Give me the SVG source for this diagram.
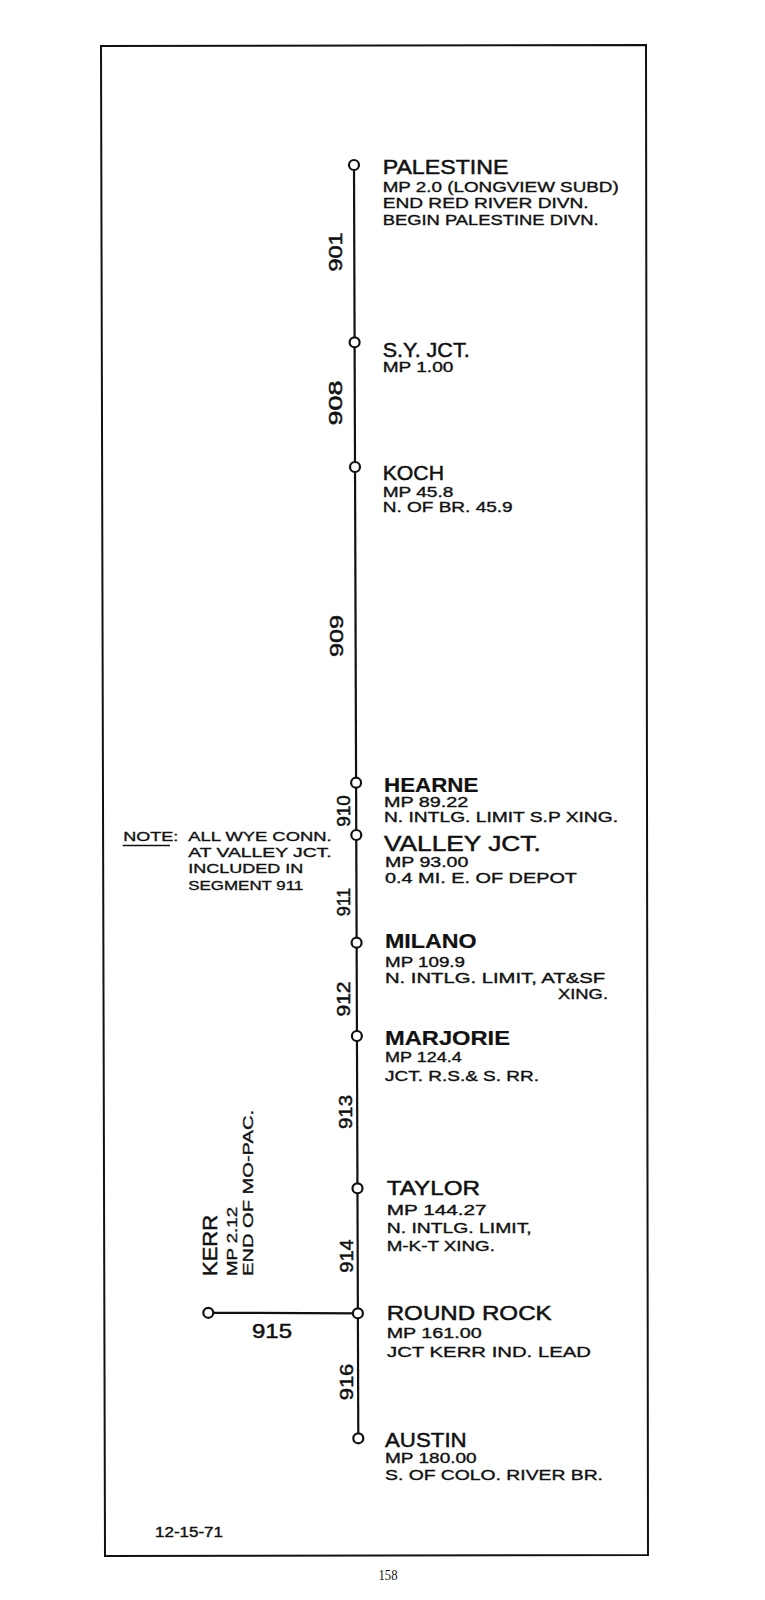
<svg xmlns="http://www.w3.org/2000/svg" width="765" height="1600" viewBox="0 0 765 1600">
<style>
text{font-family:"Liberation Sans",Arial,sans-serif;fill:#111;stroke:#111;stroke-width:0.35px;}
.nm{font-size:21px;stroke-width:0.5px;}
.nb{font-size:21px;font-weight:bold;stroke-width:0.2px;}
.sub{font-size:14px;}
.seg{font-size:19px;stroke-width:0.5px;}
.note{font-size:13.5px;}
.stn{fill:#fff;stroke:#111;stroke-width:2.2;}
.trk{stroke:#111;stroke-width:2.2;fill:none;}
</style>
<rect x="0" y="0" width="765" height="1600" fill="#fff"/>
<polygon id="frame" points="101,46 646,45 648,1555 105,1556" fill="none" stroke="#111" stroke-width="2"/>
<g id="connectors">
<line class="trk" x1="354" y1="165" x2="358.3" y2="1438.3"/>
<line class="trk" x1="208.3" y1="1312.8" x2="357.9" y2="1313.3"/>
</g>
<g id="segments">
<text class="seg" transform="translate(342,252) rotate(-90)" text-anchor="middle" textLength="39" lengthAdjust="spacingAndGlyphs">901</text>
<text class="seg" transform="translate(342,403) rotate(-90)" text-anchor="middle" textLength="45" lengthAdjust="spacingAndGlyphs">908</text>
<text class="seg" transform="translate(343,636) rotate(-90)" text-anchor="middle" textLength="42" lengthAdjust="spacingAndGlyphs">909</text>
<text class="seg" transform="translate(350,811) rotate(-90)" text-anchor="middle" textLength="31.7" lengthAdjust="spacingAndGlyphs">910</text>
<text class="seg" transform="translate(350,902) rotate(-90)" text-anchor="middle" textLength="28.7" lengthAdjust="spacingAndGlyphs">911</text>
<text class="seg" transform="translate(350,999) rotate(-90)" text-anchor="middle" textLength="35" lengthAdjust="spacingAndGlyphs">912</text>
<text class="seg" transform="translate(352,1112) rotate(-90)" text-anchor="middle" textLength="34" lengthAdjust="spacingAndGlyphs">913</text>
<text class="seg" transform="translate(353,1256) rotate(-90)" text-anchor="middle" textLength="33.3" lengthAdjust="spacingAndGlyphs">914</text>
<text class="seg" transform="translate(353,1382) rotate(-90)" text-anchor="middle" textLength="36.7" lengthAdjust="spacingAndGlyphs">916</text>
<text class="nm" x="252" y="1337.5" textLength="40" lengthAdjust="spacingAndGlyphs">915</text>
</g>
<g id="palestine">
<circle class="stn" cx="354" cy="165" r="5"/>
<text class="nm" x="382.7" y="174.3" textLength="125.7" lengthAdjust="spacingAndGlyphs">PALESTINE</text>
<text class="sub" x="382.7" y="191.7" textLength="236" lengthAdjust="spacingAndGlyphs">MP 2.0 (LONGVIEW SUBD)</text>
<text class="sub" x="382.7" y="208.3" textLength="206" lengthAdjust="spacingAndGlyphs">END RED RIVER DIVN.</text>
<text class="sub" x="382.7" y="225" textLength="216" lengthAdjust="spacingAndGlyphs">BEGIN PALESTINE DIVN.</text>
</g>
<g id="sy-jct">
<circle class="stn" cx="354.6" cy="342.3" r="5"/>
<text class="nm" x="382.7" y="356.7" textLength="87" lengthAdjust="spacingAndGlyphs">S.Y. JCT.</text>
<text class="sub" x="382.7" y="372.3" textLength="70.7" lengthAdjust="spacingAndGlyphs">MP 1.00</text>
</g>
<g id="koch">
<circle class="stn" cx="355" cy="467" r="5"/>
<text class="nm" x="382.7" y="480" textLength="61.3" lengthAdjust="spacingAndGlyphs">KOCH</text>
<text class="sub" x="382.7" y="496.5" textLength="70.7" lengthAdjust="spacingAndGlyphs">MP 45.8</text>
<text class="sub" x="382.7" y="512" textLength="130" lengthAdjust="spacingAndGlyphs">N. OF BR. 45.9</text>
</g>
<g id="hearne">
<circle class="stn" cx="356.1" cy="782.7" r="5"/>
<text class="nb" x="384" y="791.7" textLength="94.3" lengthAdjust="spacingAndGlyphs">HEARNE</text>
<text class="sub" x="384" y="806.7" textLength="84.3" lengthAdjust="spacingAndGlyphs">MP 89.22</text>
<text class="sub" x="384" y="821.7" textLength="234" lengthAdjust="spacingAndGlyphs">N. INTLG. LIMIT S.P XING.</text>
</g>
<g id="valley-jct">
<circle class="stn" cx="356.3" cy="835" r="5"/>
<text class="nm" x="384" y="850.7" textLength="156.7" lengthAdjust="spacingAndGlyphs" style="font-size:22px">VALLEY JCT.</text>
<text class="sub" x="385" y="867.3" textLength="83.3" lengthAdjust="spacingAndGlyphs">MP 93.00</text>
<text class="sub" x="385" y="883.3" textLength="192" lengthAdjust="spacingAndGlyphs">0.4 MI. E. OF DEPOT</text>
</g>
<g id="note">
<text class="note" x="123.3" y="840.7" textLength="55" lengthAdjust="spacingAndGlyphs">NOTE:</text>
<line x1="122.7" y1="845.5" x2="170" y2="845.5" stroke="#111" stroke-width="1.5"/>
<text class="note" x="188.3" y="840.7" textLength="143.3" lengthAdjust="spacingAndGlyphs">ALL WYE CONN.</text>
<text class="note" x="188.3" y="856.7" textLength="143.3" lengthAdjust="spacingAndGlyphs">AT VALLEY JCT.</text>
<text class="note" x="188.3" y="873.3" textLength="115" lengthAdjust="spacingAndGlyphs">INCLUDED IN</text>
<text class="note" x="188.3" y="890" textLength="115" lengthAdjust="spacingAndGlyphs">SEGMENT 911</text>
</g>
<g id="milano">
<circle class="stn" cx="356.6" cy="942.7" r="5"/>
<text class="nb" x="385" y="948.3" textLength="91.7" lengthAdjust="spacingAndGlyphs">MILANO</text>
<text class="sub" x="385" y="966.7" textLength="80" lengthAdjust="spacingAndGlyphs">MP 109.9</text>
<text class="sub" x="385" y="983.3" textLength="220" lengthAdjust="spacingAndGlyphs">N. INTLG. LIMIT, AT&amp;SF</text>
<text class="sub" x="608" y="999.3" text-anchor="end" textLength="50" lengthAdjust="spacingAndGlyphs">XING.</text>
</g>
<g id="marjorie">
<circle class="stn" cx="356.9" cy="1036" r="5"/>
<text class="nb" x="385" y="1045" textLength="125" lengthAdjust="spacingAndGlyphs">MARJORIE</text>
<text class="sub" x="385" y="1061.7" textLength="76.7" lengthAdjust="spacingAndGlyphs">MP 124.4</text>
<text class="sub" x="385" y="1081" textLength="154" lengthAdjust="spacingAndGlyphs">JCT. R.S.&amp; S. RR.</text>
</g>
<g id="taylor">
<circle class="stn" cx="357.5" cy="1188.3" r="5"/>
<text class="nm" x="386.7" y="1195" textLength="93.3" lengthAdjust="spacingAndGlyphs">TAYLOR</text>
<text class="sub" x="386.7" y="1215" textLength="100" lengthAdjust="spacingAndGlyphs">MP 144.27</text>
<text class="sub" x="386.7" y="1232.7" textLength="145" lengthAdjust="spacingAndGlyphs">N. INTLG. LIMIT,</text>
<text class="sub" x="386.7" y="1250.7" textLength="108.3" lengthAdjust="spacingAndGlyphs">M-K-T XING.</text>
</g>
<g id="round-rock">
<circle class="stn" cx="357.9" cy="1313.3" r="5"/>
<text class="nm" x="386.7" y="1320" textLength="165" lengthAdjust="spacingAndGlyphs">ROUND ROCK</text>
<text class="sub" x="386.7" y="1338.3" textLength="95" lengthAdjust="spacingAndGlyphs">MP 161.00</text>
<text class="sub" x="387" y="1356.7" textLength="204" lengthAdjust="spacingAndGlyphs">JCT KERR IND. LEAD</text>
</g>
<g id="kerr">
<circle class="stn" cx="208.3" cy="1312.8" r="5"/>
<text class="nm" transform="translate(216.7,1276) rotate(-90)" textLength="61" lengthAdjust="spacingAndGlyphs">KERR</text>
<text class="sub" transform="translate(236.7,1276) rotate(-90)" textLength="69" lengthAdjust="spacingAndGlyphs" style="font-size:15px">MP 2.12</text>
<text class="sub" transform="translate(253.3,1276) rotate(-90)" textLength="166" lengthAdjust="spacingAndGlyphs" style="font-size:15px">END OF MO-PAC.</text>
</g>
<g id="austin">
<circle class="stn" cx="358.3" cy="1438.3" r="5"/>
<text class="nm" x="385" y="1446.7" textLength="81.7" lengthAdjust="spacingAndGlyphs">AUSTIN</text>
<text class="sub" x="385" y="1463.3" textLength="91.7" lengthAdjust="spacingAndGlyphs">MP 180.00</text>
<text class="sub" x="385" y="1480" textLength="218" lengthAdjust="spacingAndGlyphs">S. OF COLO. RIVER BR.</text>
</g>
<text x="155" y="1537" style="font-size:15px;stroke-width:0.4px" textLength="68" lengthAdjust="spacingAndGlyphs">12-15-71</text>
<text x="388" y="1580" text-anchor="middle" style="font-family:'Liberation Serif','Times New Roman',serif;font-size:14px;stroke-width:0" textLength="19" lengthAdjust="spacingAndGlyphs">158</text>
</svg>
